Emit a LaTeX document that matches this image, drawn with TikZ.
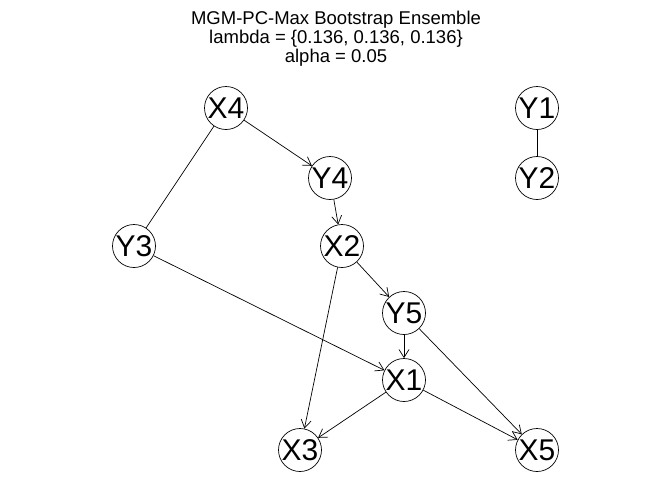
\documentclass[tikz,border=0pt]{standalone}
\usepackage{fontspec}
\setmainfont{Liberation Sans}
\usetikzlibrary{arrows.meta}
\begin{document}
\begin{tikzpicture}[x=1pt,y=-1pt,
  vtx/.style={circle,draw,line width=0.7pt,minimum size=43pt,inner sep=0pt,font=\fontsize{30}{30}\selectfont},
  dir/.style={-{Straight Barb[length=8pt,width=10pt]},line width=0.7pt},
  und/.style={line width=0.7pt},
  ttl/.style={font=\fontsize{18.5}{19}\selectfont,align=center}]
\useasboundingbox (0,0) rectangle (672,480);
\node[ttl] (title) at (336,39) {MGM-PC-Max Bootstrap Ensemble\\lambda = \{0.136, 0.136, 0.136\}\\alpha = 0.05};
\node[vtx] (X4) at (226,108) {X4};
\node[vtx] (Y4) at (330,178) {Y4};
\node[vtx] (Y1) at (537,108) {Y1};
\node[vtx] (Y2) at (537,178) {Y2};
\node[vtx] (Y3) at (134,246) {Y3};
\node[vtx] (X2) at (342,246) {X2};
\node[vtx] (Y5) at (404,313) {Y5};
\node[vtx] (X1) at (404,380) {X1};
\node[vtx] (X3) at (300,450) {X3};
\node[vtx] (X5) at (537,450) {X5};
\draw[dir] (X4) -- (Y4);
\draw[und] (X4) -- (Y3);
\draw[dir] (Y4) -- (X2);
\draw[dir] (X2) -- (Y5);
\draw[dir] (X2) -- (X3);
\draw[dir] (Y3) -- (X1);
\draw[dir] (Y5) -- (X1);
\draw[dir] (Y5) -- (X5);
\draw[dir] (X1) -- (X3);
\draw[dir] (X1) -- (X5);
\draw[und] (Y1) -- (Y2);
\end{tikzpicture}
\end{document}
